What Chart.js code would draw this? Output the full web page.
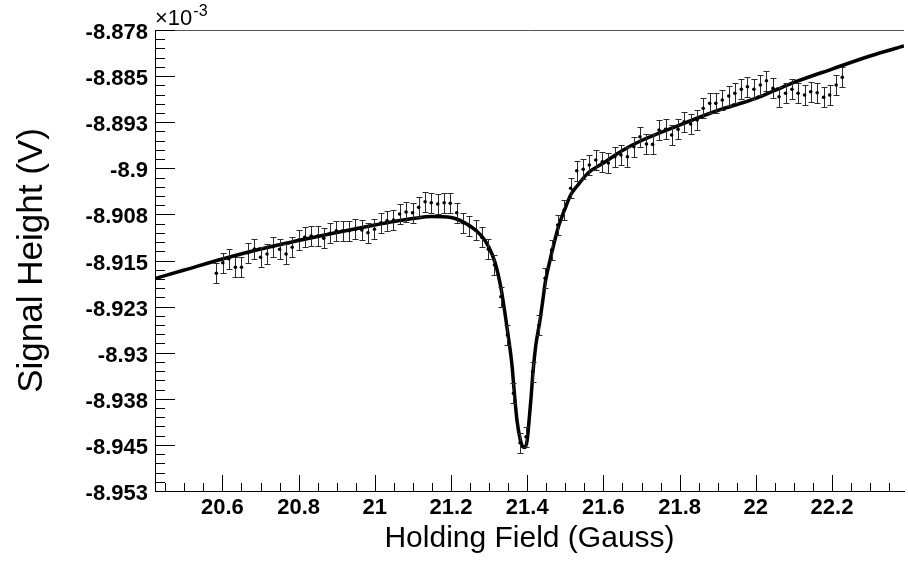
<!DOCTYPE html>
<html>
<head>
<meta charset="utf-8">
<title>Holding field scan</title>
<script src="https://cdn.jsdelivr.net/npm/chart.js@4.4.0/dist/chart.umd.min.js"></script>
<style>
    html, body { margin: 0; padding: 0; background: #fff; }
    #scan { display: block; }
</style>
</head>
<body>
<canvas id="scan" width="908" height="565"></canvas>
<script>
// measured signal height (units of 1e-3 V) vs holding field (Gauss)
var fieldX = [
    20.584, 20.601, 20.617, 20.634, 20.650, 20.667, 20.684, 20.700, 20.717, 20.733,
    20.750, 20.767, 20.783, 20.800, 20.816, 20.833, 20.850, 20.866, 20.883, 20.899,
    20.916, 20.933, 20.949, 20.966, 20.982, 20.999, 21.016, 21.032, 21.049, 21.065,
    21.082, 21.099, 21.115, 21.132, 21.148, 21.165, 21.182, 21.198, 21.215, 21.231,
    21.248, 21.265, 21.281, 21.298, 21.314, 21.331, 21.348, 21.364, 21.381, 21.397,
    21.414, 21.431, 21.447, 21.464, 21.480, 21.497, 21.514, 21.530, 21.547, 21.563,
    21.580, 21.597, 21.613, 21.630, 21.646, 21.663, 21.680, 21.696, 21.713, 21.729,
    21.746, 21.763, 21.779, 21.796, 21.812, 21.829, 21.846, 21.862, 21.879, 21.895,
    21.912, 21.929, 21.945, 21.962, 21.978, 21.995, 22.012, 22.028, 22.045, 22.061,
    22.078, 22.095, 22.111, 22.128, 22.144, 22.161, 22.178, 22.194, 22.211, 22.227
];
var signalY = [
    -8.91708, -8.91536, -8.91471, -8.91611, -8.91611, -8.91373, -8.91313, -8.91448, -8.91394, -8.91276,
    -8.91318, -8.91394, -8.91285, -8.91166, -8.91123, -8.91101, -8.91101, -8.91139, -8.91058, -8.91015,
    -8.91015, -8.91015, -8.90992, -8.91004, -8.91048, -8.90992, -8.90885, -8.90853, -8.90841, -8.90744,
    -8.90711, -8.90722, -8.90635, -8.90543, -8.90560, -8.90581, -8.90560, -8.90569, -8.90722, -8.90885,
    -8.90939, -8.91004, -8.91123, -8.91318, -8.91573, -8.92089, -8.92712, -8.93661, -8.94464, -8.94367,
    -8.93309, -8.92549, -8.91790, -8.91329, -8.90923, -8.90678, -8.90325, -8.90039, -8.90016, -8.89946,
    -8.89865, -8.89893, -8.89914, -8.89811, -8.89784, -8.89811, -8.89649, -8.89486, -8.89605, -8.89610,
    -8.89377, -8.89366, -8.89458, -8.89366, -8.89242, -8.89279, -8.89214, -8.89024, -8.88943, -8.88943,
    -8.88889, -8.88824, -8.88780, -8.88715, -8.88673, -8.88715, -8.88645, -8.88575, -8.88699, -8.88835,
    -8.88780, -8.88715, -8.88780, -8.88808, -8.88754, -8.88770, -8.88845, -8.88808, -8.88645, -8.88520
];
var signalErr = 0.0016;

// fitted resonance curve
var fitX = [
    20.423, 20.5, 20.6, 20.7, 20.8, 20.9, 21.0, 21.05, 21.1, 21.15,
    21.2, 21.25, 21.28, 21.299, 21.316, 21.332, 21.349, 21.360, 21.366, 21.373,
    21.382, 21.389, 21.394, 21.400, 21.405, 21.410, 21.415, 21.423, 21.432, 21.440,
    21.448, 21.460, 21.470, 21.481, 21.498, 21.514, 21.531, 21.560, 21.6, 21.65,
    21.7, 21.8, 21.9, 22.0, 22.05, 22.1, 22.2, 22.3, 22.389
];
var fitY = [
    -8.91793, -8.91655, -8.91476, -8.91313, -8.91175, -8.91045, -8.90923, -8.90866, -8.90817, -8.90784,
    -8.90800, -8.90939, -8.91101, -8.91280, -8.91541, -8.91980, -8.92680, -8.93200, -8.93639, -8.94095,
    -8.94420, -8.94534, -8.94542, -8.94420, -8.94095, -8.93737, -8.93330, -8.92859, -8.92533, -8.92191,
    -8.91834, -8.91492, -8.91232, -8.90971, -8.90678, -8.90435, -8.90288, -8.90077, -8.89914, -8.89710,
    -8.89548, -8.89296, -8.89060, -8.88864, -8.88734, -8.88604, -8.88385, -8.88173, -8.88010
];

var xTicks = [20.6, 20.8, 21, 21.2, 21.4, 21.6, 21.8, 22, 22.2];
var yTicks = [-8.9525, -8.945, -8.9375, -8.93, -8.9225, -8.915, -8.9075, -8.9, -8.8925, -8.885, -8.8775];
var yTickLabels = ["-8.953", "-8.945", "-8.938", "-8.93", "-8.923", "-8.915", "-8.908", "-8.9", "-8.893", "-8.885", "-8.878"];

var X_MIN = 20.423, X_MAX = 22.389;
var Y_MIN = -8.9525, Y_MAX = -8.8775;
var FONT = "'Liberation Sans', Arial, Helvetica, sans-serif";

var points = fieldX.map(function (x, i) { return { x: x, y: signalY[i] }; });
var fitPoints = fitX.map(function (x, i) { return { x: x, y: fitY[i] }; });

// vertical error bars with small caps, under the markers
var errorBars = {
    id: "errorBars",
    beforeDatasetDraw: function (chart, args) {
        if (args.index !== 1) return;
        var ctx = chart.ctx, xs = chart.scales.x, ys = chart.scales.y;
        ctx.save();
        ctx.strokeStyle = "#2a2a2a";
        ctx.lineWidth = 1;
        ctx.beginPath();
        for (var i = 0; i < fieldX.length; i++) {
            var px = Math.round(xs.getPixelForValue(fieldX[i])) + 0.5;
            var top = Math.round(ys.getPixelForValue(signalY[i] + signalErr)) + 0.5;
            var bot = Math.round(ys.getPixelForValue(signalY[i] - signalErr)) + 0.5;
            ctx.moveTo(px, top); ctx.lineTo(px, bot);
            ctx.moveTo(px - 3, top); ctx.lineTo(px + 3, top);
            ctx.moveTo(px - 3, bot); ctx.lineTo(px + 3, bot);
        }
        ctx.stroke();
        ctx.restore();
    }
};

// ROOT style frame: inward ticks, top line, exponent
var frameTicks = {
    id: "frameTicks",
    afterDraw: function (chart) {
        var ctx = chart.ctx, a = chart.chartArea;
        var xs = chart.scales.x, ys = chart.scales.y;
        ctx.save();
        ctx.lineWidth = 1;

        ctx.strokeStyle = "#555";
        ctx.beginPath();
        ctx.moveTo(a.left, a.top + 0.5); ctx.lineTo(a.right, a.top + 0.5);
        ctx.stroke();

        ctx.strokeStyle = "#000";
        ctx.beginPath();
        for (var k = 0; k <= 50; k++) {
            var py = Math.round(ys.getPixelForValue(Y_MIN + k * 0.0015)) + 0.5;
            var len = (k % 5 === 0) ? 20 : 10;
            ctx.moveTo(a.left, py); ctx.lineTo(a.left + len, py);
        }
        for (var j = 409; j <= 447; j++) {
            var v = j * 0.05;
            if (v < X_MIN || v > X_MAX) continue;
            var px = Math.round(xs.getPixelForValue(v)) + 0.5;
            var tl = (j % 4 === 0) ? 16 : 8;
            ctx.moveTo(px, a.bottom); ctx.lineTo(px, a.bottom - tl);
        }
        ctx.stroke();

        ctx.fillStyle = "#000";
        ctx.textBaseline = "alphabetic";
        ctx.textAlign = "left";
        ctx.font = "22px " + FONT;
        ctx.fillText("\u00d710", a.left, 25);
        var w = ctx.measureText("\u00d710").width;
        ctx.font = "16px " + FONT;
        ctx.fillText("-3", a.left + w + 1, 16);
        ctx.restore();
    }
};

var ctx = document.getElementById("scan").getContext("2d");
var scanChart = new Chart(ctx, {
    type: "scatter",
    data: {
        datasets: [
            {
                label: "fit",
                data: fitPoints,
                showLine: true,
                borderColor: "#000",
                borderWidth: 3.5,
                pointRadius: 0,
                cubicInterpolationMode: "monotone",
                order: 2
            },
            {
                label: "data",
                data: points,
                showLine: false,
                pointRadius: 1.8,
                pointBorderWidth: 0,
                pointBackgroundColor: "#000",
                order: 1
            }
        ]
    },
    options: {
        responsive: false,
        animation: false,
        devicePixelRatio: 1,
        layout: { padding: { top: 30, right: 0, left: 0, bottom: 0 } },
        plugins: {
            legend: { display: false },
            tooltip: { enabled: false }
        },
        scales: {
            x: {
                type: "linear",
                min: X_MIN,
                max: X_MAX,
                afterBuildTicks: function (s) {
                    s.ticks = xTicks.map(function (v) { return { value: v }; });
                },
                afterFit: function (s) { s.height = 74; },
                grid: { display: false, drawTicks: false },
                border: { display: true, color: "#000", width: 1 },
                ticks: {
                    autoSkip: false,
                    maxRotation: 0,
                    padding: 4,
                    color: "#000",
                    font: { family: FONT, size: 22, weight: "bold" },
                    callback: function (v) { return String(v); }
                },
                title: {
                    display: true,
                    text: "Holding Field (Gauss)",
                    color: "#000",
                    font: { family: FONT, size: 30 },
                    padding: { top: 0, bottom: 8 }
                }
            },
            y: {
                type: "linear",
                min: Y_MIN,
                max: Y_MAX,
                afterBuildTicks: function (s) {
                    s.ticks = yTicks.map(function (v) { return { value: v }; });
                },
                afterFit: function (s) { s.width = 155; },
                grid: { display: false, drawTicks: false },
                border: { display: true, color: "#000", width: 1 },
                ticks: {
                    autoSkip: false,
                    padding: 7,
                    labelOffset: 3,
                    color: "#000",
                    font: { family: FONT, size: 22, weight: "bold" },
                    callback: function (v) { return yTickLabels[yTicks.indexOf(v)]; }
                },
                title: {
                    display: true,
                    text: "Signal Height (V)",
                    color: "#000",
                    font: { family: FONT, size: 35 },
                    padding: { top: 11, bottom: 0 }
                }
            }
        }
    },
    plugins: [errorBars, frameTicks]
});
</script>
</body>
</html>
